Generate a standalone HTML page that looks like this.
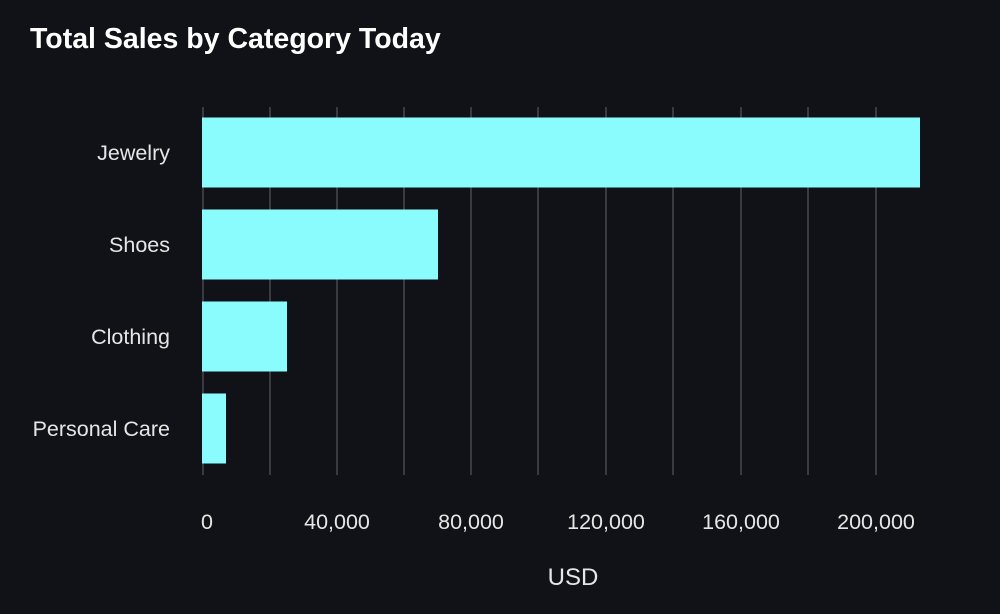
<!DOCTYPE html>
<html><head><style>
html,body{margin:0;padding:0;background:#111217;}
svg{display:block;font-family:"Liberation Sans","DejaVu Sans",sans-serif;}
</style></head><body>
<svg width="1000" height="614" viewBox="0 0 1000 614">
<rect width="1000" height="614" fill="#111217"/>
<text x="30" y="48" fill="#ffffff" font-size="28.5" font-weight="bold">Total Sales by Category Today</text>
<g stroke="#3a3b42" stroke-width="2">
<line x1="203" y1="107" x2="203" y2="475"/>
<line x1="270" y1="107" x2="270" y2="475"/>
<line x1="337" y1="107" x2="337" y2="475"/>
<line x1="404" y1="107" x2="404" y2="475"/>
<line x1="471" y1="107" x2="471" y2="475"/>
<line x1="538" y1="107" x2="538" y2="475"/>
<line x1="606" y1="107" x2="606" y2="475"/>
<line x1="673" y1="107" x2="673" y2="475"/>
<line x1="741" y1="107" x2="741" y2="475"/>
<line x1="808" y1="107" x2="808" y2="475"/>
<line x1="876" y1="107" x2="876" y2="475"/>
</g>
<g fill="#8bfcfe">
<rect x="202" y="117.5" width="718" height="70"/>
<rect x="202" y="209.5" width="236" height="70"/>
<rect x="202" y="301.5" width="85" height="70"/>
<rect x="202" y="393.5" width="24" height="70"/>
</g>
<g fill="#e6e6e6" font-size="21.5" text-anchor="end">
<text x="170" y="160">Jewelry</text>
<text x="170" y="252">Shoes</text>
<text x="170" y="344">Clothing</text>
<text x="170" y="436">Personal Care</text>
</g>
<g fill="#e6e6e6" font-size="21.5" text-anchor="middle">
<text x="207" y="529">0</text>
<text x="337" y="529">40,000</text>
<text x="471" y="529">80,000</text>
<text x="606" y="529">120,000</text>
<text x="741" y="529">160,000</text>
<text x="876" y="529">200,000</text>
</g>
<text x="573" y="585" fill="#e6e6e6" font-size="24" text-anchor="middle">USD</text>
</svg>
</body></html>
